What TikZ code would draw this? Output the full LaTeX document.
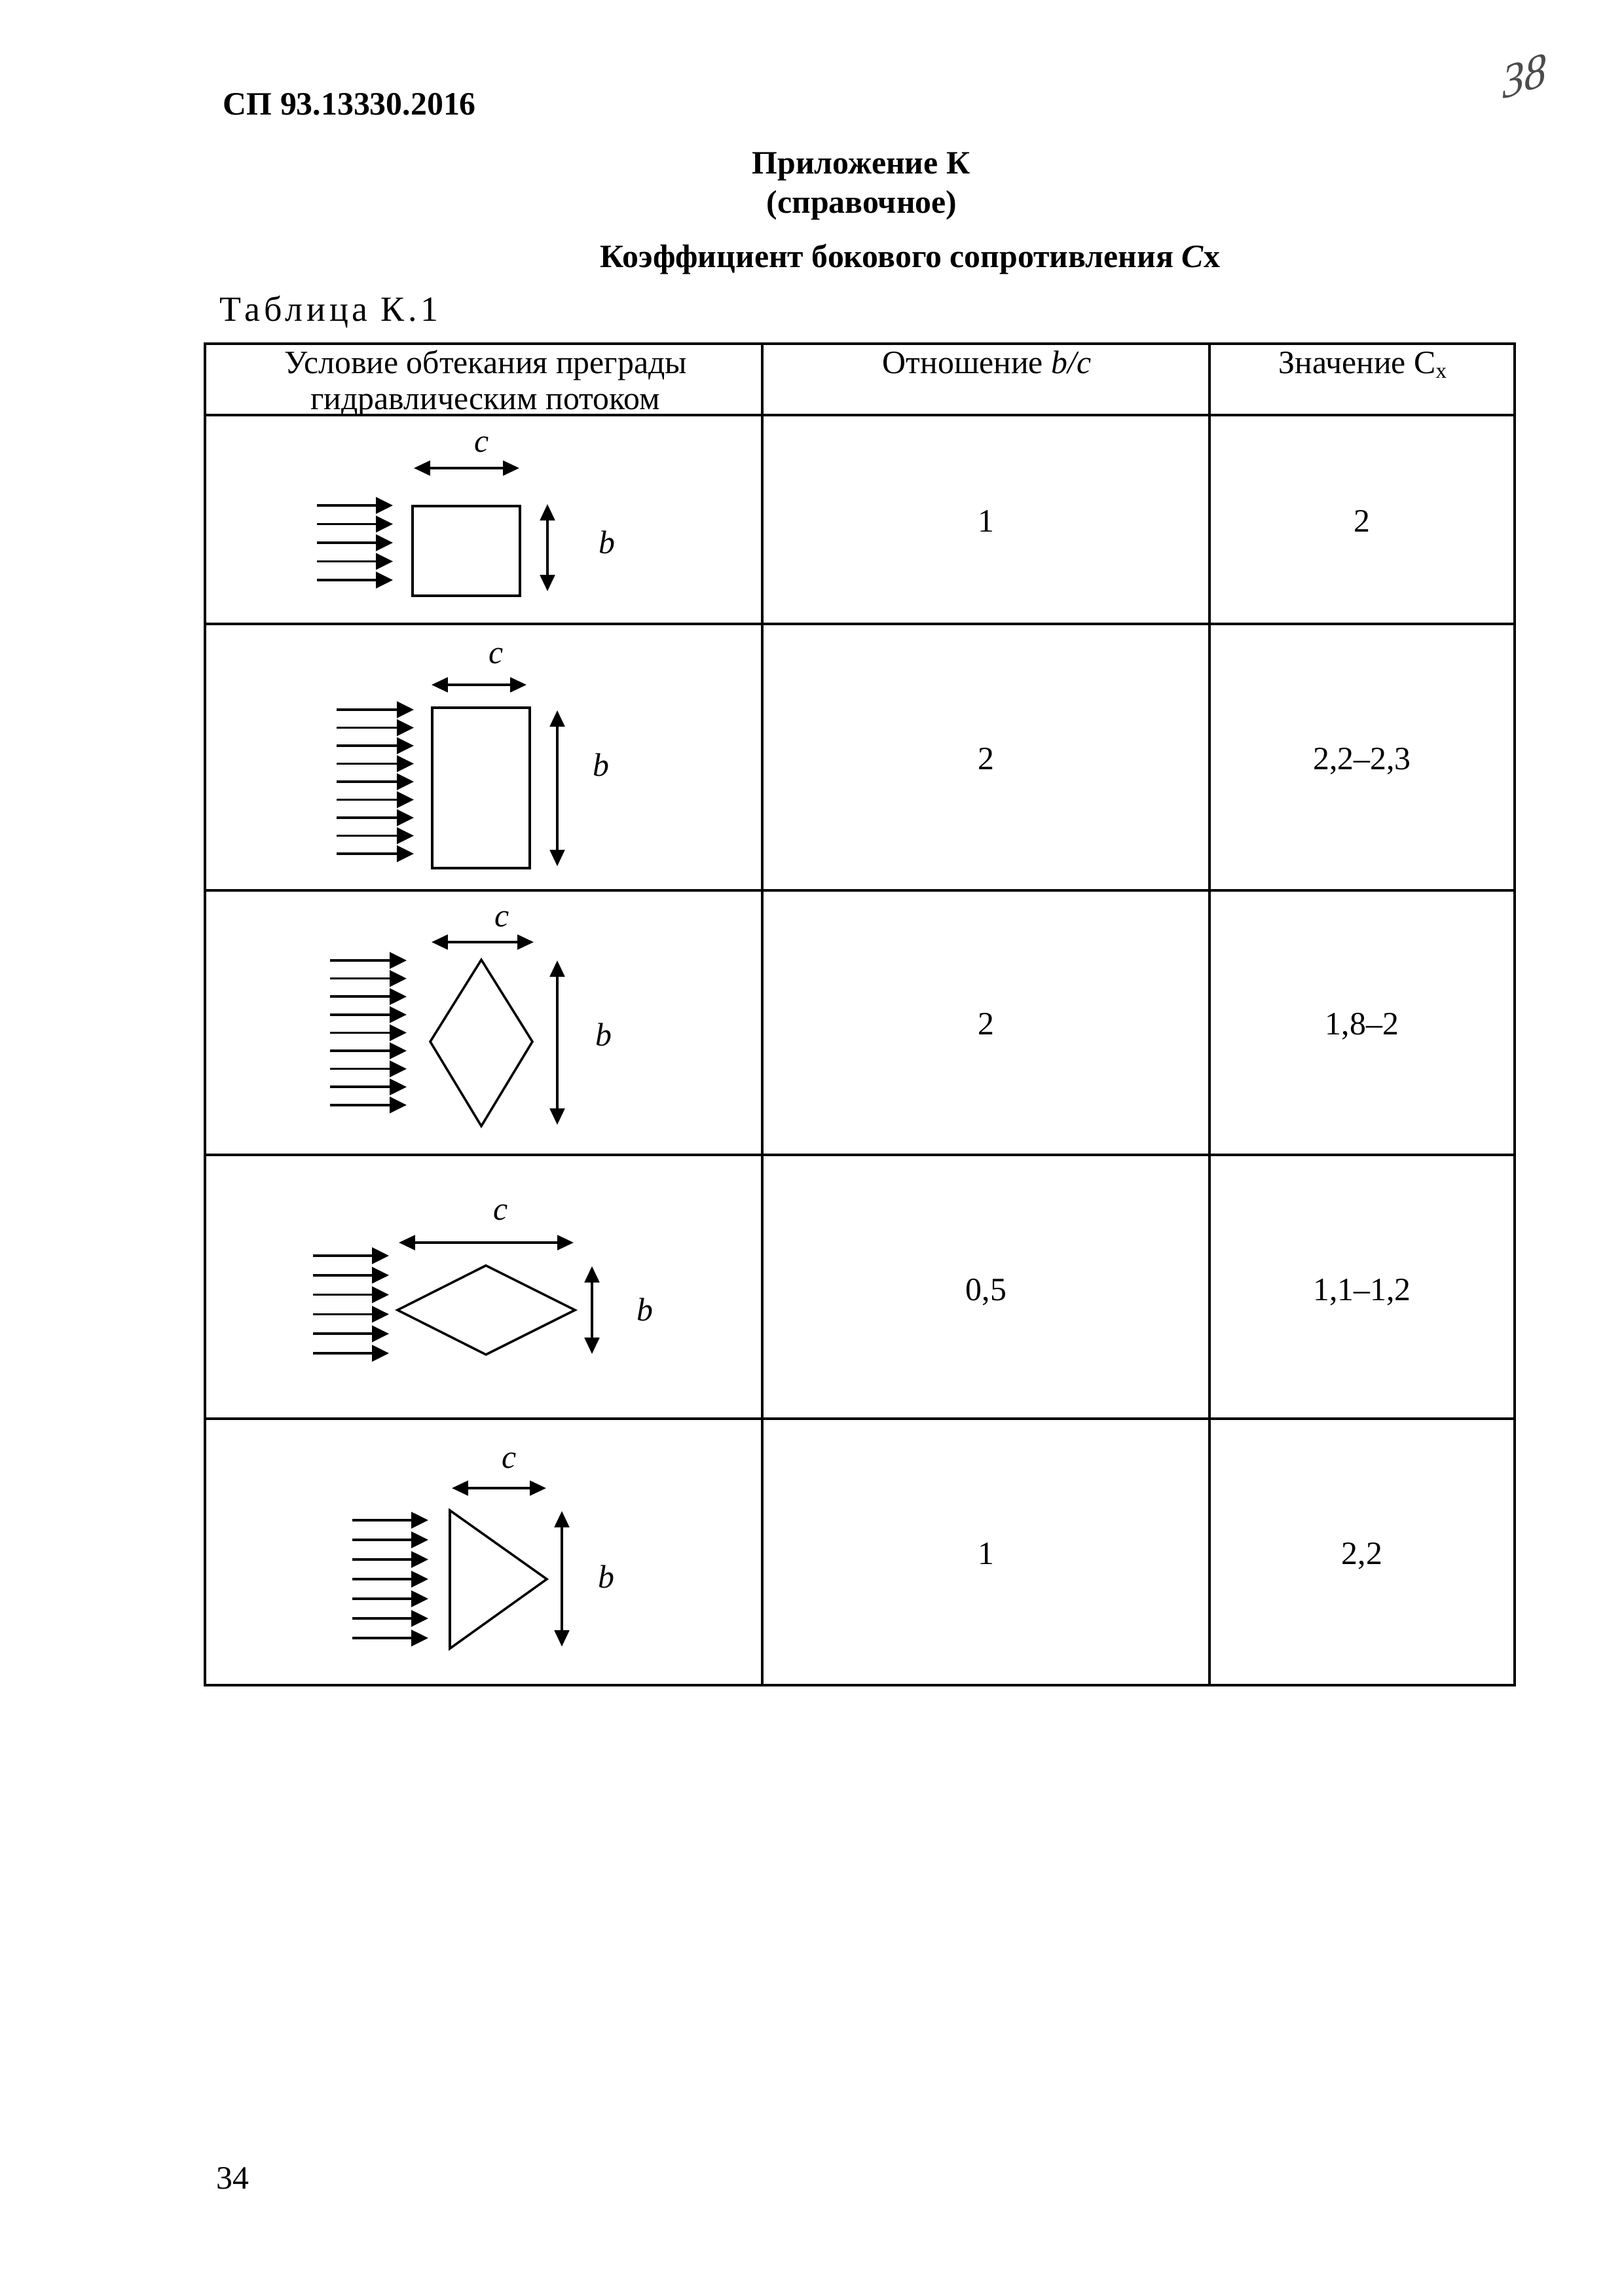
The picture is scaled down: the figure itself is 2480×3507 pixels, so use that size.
\documentclass[tikz,border=0pt]{standalone}
\usepackage{fontspec}
\setmainfont{Liberation Serif}
\usepackage{tikz}
\usetikzlibrary{arrows.meta}
\tikzstyle{tabline} = [draw, line width=0.9pt]
\tikzstyle{obst} = [draw, line width=0.85pt, line join=miter]
\tikzstyle{flow} = [draw, line width=0.85pt, -{Triangle[length=2.2mm, width=2.1mm]}]
\tikzstyle{dimarrow} = [draw, line width=0.85pt, {Triangle[length=2.1mm, width=1.9mm]}-{Triangle[length=2.1mm, width=1.9mm]}]
\tikzstyle{txt} = [inner sep=0pt, anchor=base, font=\fontsize{12}{14}\selectfont]
\tikzstyle{btxt} = [txt, font=\fontsize{12}{14}\selectfont\bfseries]
\tikzstyle{lbl} = [txt, font=\fontsize{12}{14}\selectfont\itshape]

\begin{document}
\begin{tikzpicture}[x=0.08467mm, y=-0.08467mm]
\useasboundingbox (0,0) rectangle (2480,3507);

\node [btxt, anchor=base west] (doc) at (340,175) {СП 93.13330.2016};
\node [inner sep=0pt, rotate=18, xslant=0.3, text=black!70] (mark) at (2328,116) {\fontsize{17}{17}\selectfont\itshape 38};
\node [btxt] (app) at (1315,265) {Приложение К};
\node [btxt] (ref) at (1316,325) {(справочное)};
\node [btxt] (title) at (1390,408) {Коэффициент бокового сопротивления \textit{C}x};
\node [txt, anchor=base west] (tab) at (335,490) {\fontsize{13}{15}\selectfont\addfontfeature{LetterSpace=11}Таблица К.1};

\path [tabline] (313,525) rectangle (2313,2574);
\foreach \y in {634,953,1360,1764,2167}
  \path [tabline] (313,\y) -- (2313,\y);
\foreach \x in {1164,1847}
  \path [tabline] (\x,525) -- (\x,2574);

\node [txt] (h1a) at (742,570) {Условие обтекания преграды};
\node [txt] (h1b) at (741,625) {гидравлическим потоком};
\node [txt] (h2) at (1507,570) {Отношение \textit{b/c}};
\node [txt] (h3) at (2082,570) {Значение C\textsubscript{x}};

\node [txt] (r1b) at (1506,812) {1};
\node [txt] (r1c) at (2080,812) {2};
\node [txt] (r2b) at (1506,1175) {2};
\node [txt] (r2c) at (2080,1175) {2,2–2,3};
\node [txt] (r3b) at (1506,1580) {2};
\node [txt] (r3c) at (2080,1580) {1,8–2};
\node [txt] (r4b) at (1506,1986) {0,5};
\node [txt] (r4c) at (2080,1986) {1,1–1,2};
\node [txt] (r5b) at (1506,2389) {1};
\node [txt] (r5c) at (2080,2389) {2,2};

\foreach \r/\xa/\xb/\ya/\dy/\k in {1/484/600/772/28.5/5, 2/514/632/1084/27.5/9, 3/504/621/1467/27.6/9, 4/478/594/1918/29.8/6, 5/538/654/2322/30/7}
  \foreach \i in {1,...,\k} {
    \coordinate (f\r s\i) at (\xa,{\ya+\dy*(\i-1)});
    \coordinate (f\r e\i) at (\xb,{\ya+\dy*(\i-1)});
    \path [flow] (f\r s\i) -- (f\r e\i);
  }

\coordinate (sq1) at (630,773);
\coordinate (sq2) at (794,910);
\path [obst] (sq1) rectangle (sq2);
\coordinate (c1a) at (632,715);
\coordinate (c1b) at (793,715);
\coordinate (b1a) at (836,770);
\coordinate (b1b) at (836,903);
\path [dimarrow] (c1a) -- (c1b);
\path [dimarrow] (b1a) -- (b1b);
\node [lbl] (c1) at (736,690) {c};
\node [lbl] (b1) at (927,845) {b};

\coordinate (re1) at (660,1081);
\coordinate (re2) at (809,1326);
\path [obst] (re1) rectangle (re2);
\coordinate (c2a) at (659,1046);
\coordinate (c2b) at (804,1046);
\coordinate (b2a) at (851,1085);
\coordinate (b2b) at (851,1323);
\path [dimarrow] (c2a) -- (c2b);
\path [dimarrow] (b2a) -- (b2b);
\node [lbl] (c2) at (758,1013) {c};
\node [lbl] (b2) at (918,1185) {b};

\coordinate (dt3) at (735,1466);
\coordinate (dr3) at (813,1591);
\coordinate (db3) at (735,1720);
\coordinate (dl3) at (657,1591);
\path [obst] (dt3) -- (dr3) -- (db3) -- (dl3) -- cycle;
\coordinate (c3a) at (659,1439);
\coordinate (c3b) at (815,1439);
\coordinate (b3a) at (851,1467);
\coordinate (b3b) at (851,1718);
\path [dimarrow] (c3a) -- (c3b);
\path [dimarrow] (b3a) -- (b3b);
\node [lbl] (c3) at (767,1415) {c};
\node [lbl] (b3) at (922,1597) {b};

\coordinate (dl4) at (607,2001);
\coordinate (dt4) at (742,1933);
\coordinate (dr4) at (878,2001);
\coordinate (db4) at (742,2069);
\path [obst] (dl4) -- (dt4) -- (dr4) -- (db4) -- cycle;
\coordinate (c4a) at (609,1898);
\coordinate (c4b) at (876,1898);
\coordinate (b4a) at (904,1934);
\coordinate (b4b) at (904,2068);
\path [dimarrow] (c4a) -- (c4b);
\path [dimarrow] (b4a) -- (b4b);
\node [lbl] (c4) at (765,1863) {c};
\node [lbl] (b4) at (985,2017) {b};

\coordinate (tt5) at (687,2307);
\coordinate (ta5) at (835,2412);
\coordinate (tb5) at (687,2518);
\path [obst] (tt5) -- (ta5) -- (tb5) -- cycle;
\coordinate (c5a) at (690,2273);
\coordinate (c5b) at (834,2273);
\coordinate (b5a) at (858,2308);
\coordinate (b5b) at (858,2515);
\path [dimarrow] (c5a) -- (c5b);
\path [dimarrow] (b5a) -- (b5b);
\node [lbl] (c5) at (778,2242) {c};
\node [lbl] (b5) at (926,2425) {b};

\node [txt, anchor=base west] (page) at (330,3343) {34};
\end{tikzpicture}
\end{document}
